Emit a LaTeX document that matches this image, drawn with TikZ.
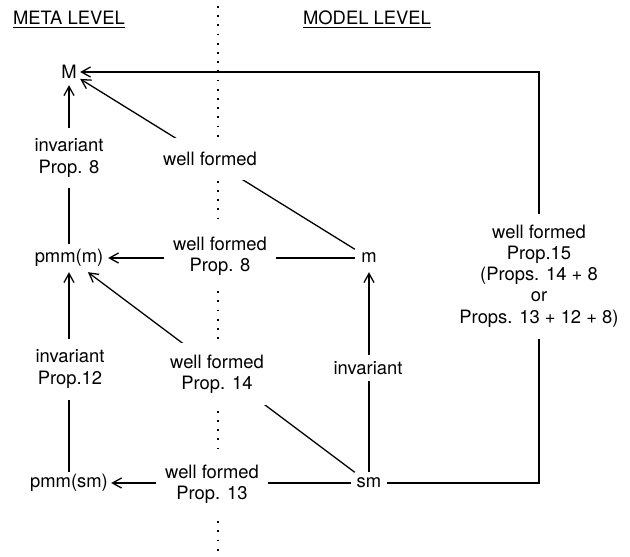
\documentclass[tikz,border=0pt]{standalone}
\usepackage{fontspec}
\setmainfont{TeX Gyre Heros}
\usetikzlibrary{arrows.meta}
\begin{document}
\begin{tikzpicture}[x=1pt,y=-1pt,
  every node/.style={font=\fontsize{18.4}{21.2}\selectfont},
  lbl/.style={fill=white, inner sep=0pt, align=center},
  obj/.style={inner sep=0pt},
  arr/.style={line width=1.3pt, -{Straight Barb[length=9pt,width=10pt]}},
  dots/.style={line width=1.4pt, dash pattern=on 1.8pt off 7.4pt}
]
\path[use as bounding box] (0,0) rectangle (630,557);

% separator
\coordinate (d1) at (218,6);
\coordinate (d2) at (218,557);
\draw[dots] (d1) -- (d2);

% titles
\node[obj, anchor=base] (t1) at (69,24.5) {META LEVEL};
\node[obj, anchor=base] (t2) at (367,24.5) {MODEL LEVEL};
\draw[line width=1.2pt] ([yshift=-2.8pt]t1.base west) -- ([yshift=-2.8pt]t1.base east);
\draw[line width=1.2pt] ([yshift=-2.8pt]t2.base west) -- ([yshift=-2.8pt]t2.base east);

% main nodes
\node[obj, minimum width=22pt, minimum height=26pt] (M) at (69,72) {M};
\node[obj, minimum width=78pt, minimum height=28pt] (pmmm) at (69,258) {pmm(m)};
\node[obj, minimum width=84pt, minimum height=22pt] (pmmsm) at (69,483) {pmm(sm)};
\node[obj, minimum width=28pt, minimum height=28pt] (m) at (369,258) {m};
\node[obj, minimum width=36pt, minimum height=21pt] (sm) at (369,483) {sm};
\coordinate (c1) at (539,483);
\coordinate (c2) at (539,72);

% connectors
\draw[arr] (pmmm) -- (M);
\draw[arr] (m) -- (M);
\draw[arr] (m) -- (pmmm);
\draw[arr] (sm) -- (pmmm);
\draw[arr] (sm) -- (pmmsm);
\draw[arr] (pmmsm) -- (pmmm);
\draw[arr] (sm) -- (m);
\draw[arr] (sm) -- (c1) -- (c2) -- (M);

% labels
\node[lbl, minimum width=90pt, minimum height=60pt] (l1) at (69,158) {invariant\\Prop. 8};
\node[lbl, minimum width=100pt, minimum height=42pt] (l2) at (210,159) {well formed};
\node[lbl, minimum width=112pt, minimum height=64pt] (l3) at (220,256) {well formed\\Prop. 8};
\node[lbl, minimum width=104pt, minimum height=62pt] (l4) at (217,374) {well formed\\Prop. 14};
\node[lbl, minimum width=112pt, minimum height=65pt] (l5) at (212,484) {well formed\\Prop. 13};
\node[lbl, minimum width=90pt, minimum height=61pt] (l6) at (70,369) {invariant\\Prop.12};
\node[lbl, minimum width=80pt, minimum height=26pt] (l7) at (368,368) {invariant};
\node[lbl, minimum width=170pt, minimum height=125pt] (l8) at (539,276) {well formed\\Prop.15\\(Props. 14 + 8\\or\\Props. 13 + 12 + 8)};
\end{tikzpicture}
\end{document}
